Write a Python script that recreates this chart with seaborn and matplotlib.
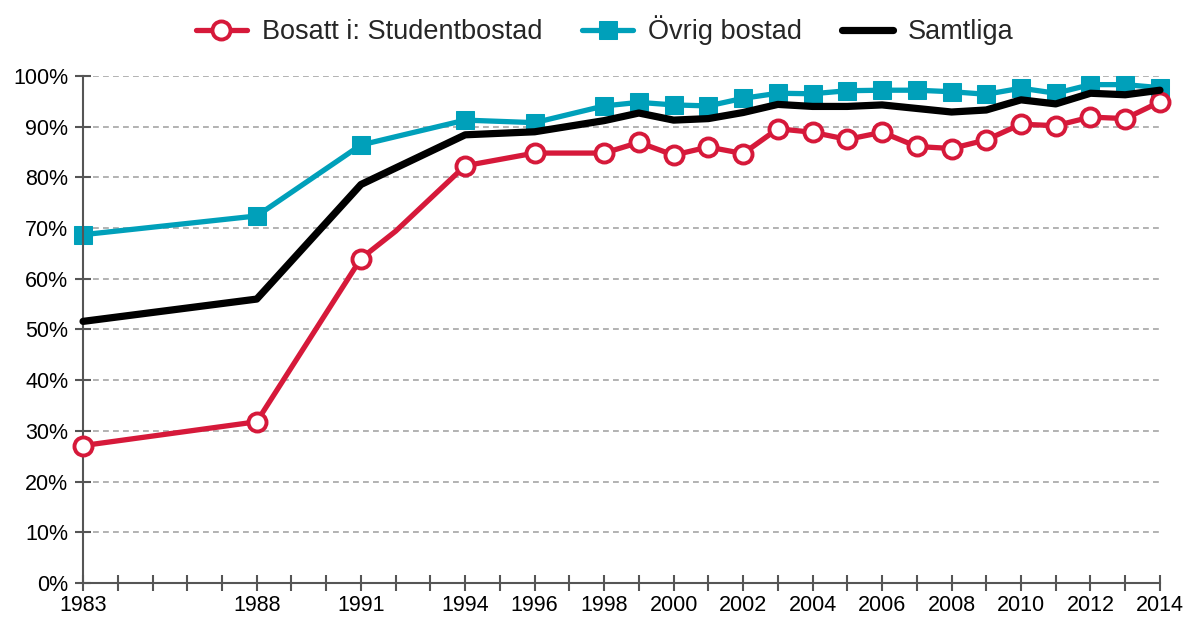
import pandas as pd
import matplotlib
matplotlib.use("Agg")
import matplotlib.pyplot as plt
import seaborn as sns
from matplotlib.ticker import FuncFormatter

# Data (percent)
years_student = [1983, 1988, 1991, 1992, 1994, 1996] + list(range(1998, 2015))
student = [27.1, 31.8, 64.0, 69.4, 82.3, 84.8,
           84.8, 86.9, 84.4, 86.0, 84.7, 89.6, 88.9, 87.5, 88.9,
           86.1, 85.7, 87.4, 90.5, 90.2, 91.9, 91.6, 94.9]
student_marked = [y for y in years_student if y != 1992]

years_ovrig = [1983, 1988, 1991, 1994, 1996] + list(range(1998, 2015))
ovrig = [68.7, 72.4, 86.4, 91.3, 90.8,
         94.1, 94.8, 94.3, 94.1, 95.6, 96.6, 96.5, 97.1, 97.2,
         97.2, 96.9, 96.4, 97.6, 96.6, 98.3, 98.3, 97.7]

years_samtliga = [1983, 1988, 1991, 1994, 1996] + list(range(1998, 2015))
samtliga = [51.6, 56.0, 78.6, 88.4, 89.0,
            91.2, 92.7, 91.3, 91.6, 92.8, 94.4, 94.0, 94.0, 94.3,
            93.6, 92.9, 93.3, 95.3, 94.5, 96.6, 96.3, 97.2]

labeled_years = [1983, 1988, 1991, 1994, 1996] + list(range(1998, 2015, 2))

red = "#d6193a"
teal = "#00a0ba"

sns.set_style("white")
plt.rcParams["font.family"] = ["Liberation Sans", "DejaVu Sans"]

df_s = pd.DataFrame({"year": years_student, "value": student})
df_o = pd.DataFrame({"year": years_ovrig, "value": ovrig})
df_t = pd.DataFrame({"year": years_samtliga, "value": samtliga})

fig = plt.figure(figsize=(11.88, 6.19), dpi=100)
ax = fig.add_axes([0.0699, 0.0582, 0.9065, 0.819])

mark_idx = [i for i, y in enumerate(years_student) if y in student_marked]
sns.lineplot(data=df_s, x="year", y="value", ax=ax, color=red, linewidth=3.8,
             marker="o", markersize=13, markerfacecolor="white",
             markeredgecolor=red, markeredgewidth=2.8, markevery=mark_idx,
             label="Bosatt i: Studentbostad", zorder=3)
sns.lineplot(data=df_o, x="year", y="value", ax=ax, color=teal, linewidth=3.8,
             marker="s", markersize=12.5, markeredgecolor=teal,
             label="Övrig bostad", zorder=2)
sns.lineplot(data=df_t, x="year", y="value", ax=ax, color="black", linewidth=5.2,
             label="Samtliga", zorder=4)

ax.set_xlim(1983, 2014)
ax.set_ylim(0, 100)
ax.set_xlabel("")
ax.set_ylabel("")

ax.set_xticks(list(range(1983, 2015)))
ax.set_xticklabels([str(y) if y in labeled_years else "" for y in range(1983, 2015)])
ax.set_yticks(range(0, 101, 10))
ax.yaxis.set_major_formatter(FuncFormatter(lambda v, p: f"{int(v)}%"))

ax.tick_params(axis="both", direction="inout", length=11, width=1.5,
               color="#555555", labelsize=15.5, labelcolor="black",
               bottom=True, left=True)
ax.tick_params(axis="y", pad=5)
ax.tick_params(axis="x", pad=3)

ax.yaxis.grid(True, linestyle=(0, (3.5, 2.5)), color="#a6a6a6", linewidth=1.2)
ax.set_axisbelow(True)
for side in ["top", "right"]:
    ax.spines[side].set_visible(False)
for side in ["left", "bottom"]:
    ax.spines[side].set_color("#555555")
    ax.spines[side].set_linewidth(1.5)
for line in ax.lines:
    line.set_clip_on(False)

ax.legend(loc="center", bbox_to_anchor=(0.509, 0.951), bbox_transform=fig.transFigure,
          ncol=3, frameon=False, fontsize=19.5, handlelength=1.9,
          handletextpad=0.55, columnspacing=1.45)

fig.savefig("out.png", dpi=100)
